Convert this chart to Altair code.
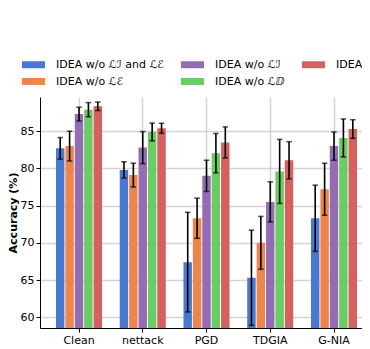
import altair as alt
import pandas as pd

attacks = ["Clean", "nettack", "PGD", "TDGIA", "G-NIA"]
variants = ["IDEA w/o ℒℐ and ℒℰ", "IDEA w/o ℒℰ", "IDEA w/o ℒℐ", "IDEA w/o ℒⅅ", "IDEA"]
colors = ["#4878d0", "#ee854a", "#956cb4", "#6acc64", "#d65f5f"]

acc_v1 = [82.7, 79.8, 67.4, 65.3, 73.3]
err_v1 = [1.45, 1.1, 6.7, 6.4, 4.45]
acc_v2 = [83.0, 79.1, 73.3, 70.0, 77.2]
err_v2 = [2.0, 1.6, 2.7, 3.55, 3.5]
acc_v3 = [87.3, 82.8, 79.0, 75.5, 83.0]
err_v3 = [0.93, 2.15, 2.1, 2.7, 1.9]
acc_v4 = [87.9, 84.9, 82.05, 79.6, 84.1]
err_v4 = [0.95, 1.2, 2.65, 4.3, 2.55]
acc_v5 = [88.35, 85.4, 83.5, 81.1, 85.3]
err_v5 = [0.57, 0.67, 2.08, 2.5, 1.25]

accs = [acc_v1, acc_v2, acc_v3, acc_v4, acc_v5]
errs = [err_v1, err_v2, err_v3, err_v4, err_v5]

rows = []
for v, a_list, e_list in zip(variants, accs, errs):
    for atk, a, e in zip(attacks, a_list, e_list):
        rows.append({"attack": atk, "variant": v, "acc": a, "lo": a - e, "hi": a + e})
df = pd.DataFrame(rows)

FONT = "DejaVu Sans"

x = alt.X("attack:N", sort=attacks,
          scale=alt.Scale(paddingInner=0.2, paddingOuter=0.1255, align=0.844),
          axis=alt.Axis(title=None, labelAngle=0, grid=True, tickSize=4, labelPadding=2))
xo = alt.XOffset("variant:N", sort=variants,
                 scale=alt.Scale(paddingInner=0.1, paddingOuter=0.263))
yscale = alt.Scale(domain=[58.55, 89.6], zero=False, nice=False)
yaxis = alt.Axis(values=[60, 65, 70, 75, 80, 85], title="Accuracy (%)",
                 grid=True, tickSize=4, labelPadding=2, titlePadding=1.5)

base = alt.Chart(df)

bars = base.mark_bar(clip=True).encode(
    x=x, xOffset=xo,
    y=alt.Y("acc:Q", scale=yscale, axis=yaxis),
    color=alt.Color("variant:N",
                    scale=alt.Scale(domain=variants, range=colors),
                    legend=alt.Legend(orient="none", legendX=-12, legendY=-38,
                                      direction="vertical",
                                      columns=3, title=None, padding=0,
                                      symbolType="M-3.3,-1H3.3V1H-3.3Z",
                                      symbolSize=49, symbolStrokeWidth=0,
                                      symbolOpacity=1,
                                      labelOffset=17, labelFontSize=11,
                                      labelFont=FONT, labelColor="#000000",
                                      columnPadding=16, rowPadding=5)),
)

rules = base.mark_rule(color="black", strokeWidth=1.6).encode(
    x=x, xOffset=xo, y=alt.Y("lo:Q", scale=yscale), y2="hi:Q")
cap_hi = base.mark_tick(color="black", thickness=1.5, size=5.5).encode(
    x=x, xOffset=xo, y=alt.Y("hi:Q", scale=yscale))
cap_lo = base.mark_tick(color="black", thickness=1.5, size=5.5).encode(
    x=x, xOffset=xo, y=alt.Y("lo:Q", scale=yscale))

chart = alt.layer(bars, rules, cap_hi, cap_lo).properties(
    width=322, height=231,
    autosize=alt.AutoSizeParams(type="none"),
    padding={"left": 32, "top": 89, "right": 0, "bottom": 20},
).configure_view(stroke=None).configure_axis(
    labelFont=FONT, labelFontSize=11, labelColor="#000000",
    titleFont=FONT, titleFontSize=11, titleFontWeight="bold", titleColor="#000000",
    domainColor="#000000", domainWidth=1, tickColor="#000000", tickWidth=1,
    gridColor="#b0b0b0", gridOpacity=0.55, gridWidth=1.5, zindex=1,
)

chart.save("out.html", embed_options={"renderer": "svg", "actions": False})
